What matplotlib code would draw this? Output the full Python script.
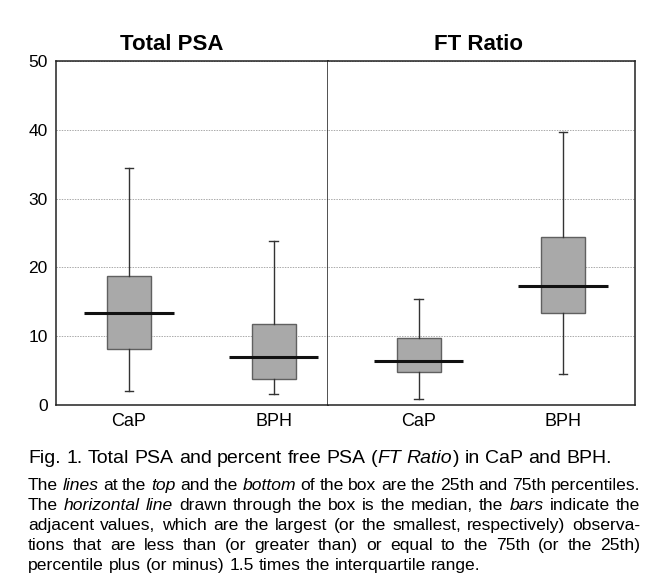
import matplotlib
matplotlib.use('Agg')
import matplotlib.pyplot as plt

# box statistics: whisker low, q1, median, q3, whisker high
groups = ['CaP', 'BPH']
psa_stats = [(2.1, 8.2, 13.4, 18.75, 34.5), (1.65, 3.8, 7.0, 11.8, 23.8)]
ft_stats = [(0.8, 4.85, 6.4, 9.8, 15.4), (4.5, 13.4, 17.3, 24.4, 39.7)]
panel_titles = ['Total PSA', 'FT Ratio']
yticks = [0, 10, 20, 30, 40, 50]

caption_title = [('Fig. 1. Total PSA and percent free PSA (', 'normal'), ('FT Ratio', 'italic'),
                 (') in CaP and BPH.', 'normal')]
caption_lines = [
    [('The ', 'normal'), ('lines', 'italic'), (' at the ', 'normal'), ('top', 'italic'),
     (' and the ', 'normal'), ('bottom', 'italic'),
     (' of the box are the 25th and 75th percentiles.', 'normal')],
    [('The ', 'normal'), ('horizontal line', 'italic'),
     (' drawn through the box is the median, the ', 'normal'), ('bars', 'italic'),
     (' indicate the', 'normal')],
    [('adjacent values, which are the largest (or the smallest, respectively) observa-', 'normal')],
    [('tions that are less than (or greater than) or equal to the 75th (or the 25th)', 'normal')],
    [('percentile plus (or minus) 1.5 times the interquartile range.', 'normal')],
]

W, H = 652, 586
fig = plt.figure(figsize=(W / 100, H / 100), dpi=100)
fig.patch.set_facecolor('white')

box_color = '#a9a9a9'
edge_color = '#606060'
sans = ['Liberation Sans', 'DejaVu Sans']
cap_font = ['Liberation Sans', 'DejaVu Sans']

ax_l = fig.add_axes([56 / W, (H - 405) / H, 272 / W, 344 / H])
ax_r = fig.add_axes([328 / W, (H - 405) / H, 307 / W, 344 / H])


def draw_panel(ax, stats, xlim):
    bxp_stats = []
    for name, (lo, q1, med, q3, hi) in zip(groups, stats):
        bxp_stats.append(dict(label=name, whislo=lo, q1=q1, med=med, q3=q3, whishi=hi, fliers=[]))
    pos = [1, 2]
    ax.bxp(bxp_stats, positions=pos, widths=0.304, capwidths=0.06, patch_artist=True,
           showfliers=False,
           boxprops=dict(facecolor=box_color, edgecolor=edge_color, linewidth=1.0),
           whiskerprops=dict(color='#333333', linewidth=1.0),
           capprops=dict(color='#333333', linewidth=1.0),
           medianprops=dict(visible=False), zorder=3)
    meds = [s[2] for s in stats]
    ax.hlines(meds, [p - 0.31 for p in pos], [p + 0.31 for p in pos],
              colors='#111111', linewidth=2.2, zorder=4)
    ax.set_xlim(*xlim)
    ax.set_ylim(0, 50)
    ax.set_yticks(yticks)
    ax.yaxis.grid(True, color='#aaaaaa', linestyle=(0, (1.5, 1.2)), linewidth=0.7)
    ax.set_axisbelow(True)
    ax.tick_params(axis='both', length=0)
    ax.tick_params(axis='x', pad=6)
    ax.tick_params(axis='y', pad=6)
    for lab in ax.get_xticklabels():
        lab.set_fontfamily(sans)
        lab.set_fontsize(13)
    for lab in ax.get_yticklabels():
        lab.set_fontfamily(sans)
        lab.set_fontsize(12.5)
    for sp in ax.spines.values():
        sp.set_linewidth(1.1)
        sp.set_color('#222222')


draw_panel(ax_l, psa_stats, (0.496, 2.376))
draw_panel(ax_r, ft_stats, (0.374, 2.497))
ax_r.set_yticklabels([])
ax_r.spines['left'].set_visible(False)

fig.text(172 / W, 1 - 44 / H, panel_titles[0], ha='center', va='center',
         fontsize=16, fontweight='bold', family=sans)
fig.text(478 / W, 1 - 44 / H, panel_titles[1], ha='center', va='center',
         fontsize=16, fontweight='bold', family=sans)

renderer = fig.canvas.get_renderer()


def text_width(s, style, size):
    t = fig.text(0, 0, s, fontsize=size, style=style, family=cap_font)
    w = t.get_window_extent(renderer).width
    t.remove()
    return w


def draw_line(segs, x0, x1, y, size, justify):
    tokens = [[]]
    for txt, style in segs:
        parts = txt.split(' ')
        for i, p in enumerate(parts):
            if i > 0:
                tokens.append([])
            if p:
                tokens[-1].append((p, style))
    tokens = [t for t in tokens if t]
    widths = [[text_width(p, st, size) for p, st in tok] for tok in tokens]
    total = sum(sum(w) for w in widths)
    space = text_width('x x', 'normal', size) - text_width('xx', 'normal', size)
    gap = (x1 - x0 - total) / (len(tokens) - 1) if justify else space
    x = x0
    for tok, ws in zip(tokens, widths):
        for (p, st), w in zip(tok, ws):
            fig.text(x / W, 1 - y / H, p, fontsize=size, style=st, family=cap_font,
                     ha='left', va='baseline')
            x += w
        x += gap


draw_line(caption_title, 28, 604, 463, 14, False)
ys = [490, 510, 530, 550, 570]
for i, (segs, y) in enumerate(zip(caption_lines, ys)):
    draw_line(segs, 28, 640, y, 12.6, i < len(caption_lines) - 1)

fig.savefig('out.png', dpi=100, facecolor='white')
